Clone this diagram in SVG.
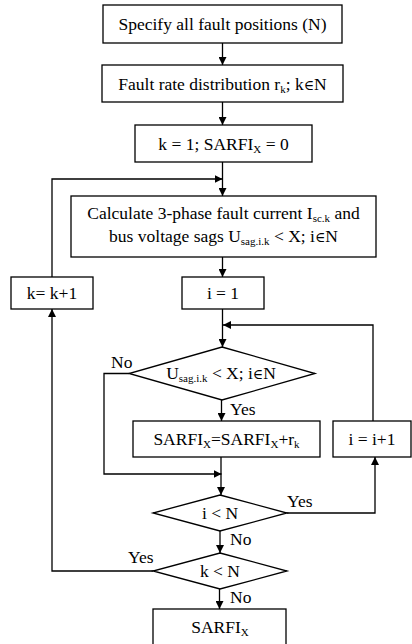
<svg xmlns="http://www.w3.org/2000/svg" width="412" height="644" viewBox="0 0 412 644">
  <style>
    .box { fill: #ffffff; stroke: #000000; stroke-width: 1.3; }
    .line { fill: none; stroke: #000000; stroke-width: 1.3; }
    text { font-family: "Liberation Serif", "DejaVu Serif", serif; font-size: 17.5px; fill: #000000; }
    .c { text-anchor: middle; }
    .sub { font-size: 11px; }
    .el { font-size: 14px; }
  </style>
  <defs>
    <marker id="arrow" viewBox="0 0 10 10" refX="10" refY="5" markerWidth="8" markerHeight="8" markerUnits="userSpaceOnUse" orient="auto">
      <path d="M0,0 L10,5 L0,10 z" fill="#000000"/>
    </marker>
  </defs>
  <rect width="412" height="644" fill="#ffffff"/>

  <g id="connectors">
    <line class="line" x1="222.5" y1="43" x2="222.5" y2="65" marker-end="url(#arrow)"/>
    <line class="line" x1="222.5" y1="102" x2="222.5" y2="125" marker-end="url(#arrow)"/>
    <line class="line" x1="222.5" y1="162" x2="222.5" y2="196" marker-end="url(#arrow)"/>
    <polyline class="line" points="52,277 52,179 222.5,179" marker-end="url(#arrow)"/>
    <line class="line" x1="222.5" y1="257" x2="222.5" y2="277" marker-end="url(#arrow)"/>
    <line class="line" x1="222.5" y1="309" x2="222.5" y2="347" marker-end="url(#arrow)"/>
    <polyline class="line" points="373,421 373,325 223,325" marker-end="url(#arrow)"/>
    <line class="line" x1="221.5" y1="400" x2="221.5" y2="421" marker-end="url(#arrow)"/>
    <polyline class="line" points="129,373.5 104,373.5 104,474 221.5,474" marker-end="url(#arrow)"/>
    <line class="line" x1="221" y1="457" x2="221" y2="495" marker-end="url(#arrow)"/>
    <polyline class="line" points="287,513 375,513 375,457" marker-end="url(#arrow)"/>
    <line class="line" x1="220" y1="531" x2="220" y2="553" marker-end="url(#arrow)"/>
    <polyline class="line" points="153,571 52,571 52,309" marker-end="url(#arrow)"/>
    <line class="line" x1="219.5" y1="589" x2="219.5" y2="609" marker-end="url(#arrow)"/>
  </g>

  <g id="specify-positions">
    <rect class="box" x="103" y="5" width="239" height="38"/>
    <text class="c" x="222.5" y="30">Specify all fault positions (N)</text>
  </g>

  <g id="fault-rate">
    <rect class="box" x="102" y="65" width="241" height="37"/>
    <text class="c" x="222.5" y="89.5">Fault rate distribution r<tspan class="sub" dy="3">k</tspan><tspan dy="-3">; k</tspan><tspan class="el">∈</tspan>N</text>
  </g>

  <g id="init">
    <rect class="box" x="135" y="125" width="177" height="37"/>
    <text class="c" x="223.5" y="149.5">k = 1; SARFI<tspan class="sub" dy="3">X</tspan><tspan dy="-3"> = 0</tspan></text>
  </g>

  <g id="calculate">
    <rect class="box" x="71" y="196" width="305" height="61"/>
    <text class="c" x="223.5" y="219">Calculate 3-phase fault current I<tspan class="sub" dy="3">sc.k</tspan><tspan dy="-3"> and</tspan></text>
    <text class="c" x="223.5" y="242">bus voltage sags U<tspan class="sub" dy="3">sag.i.k</tspan><tspan dy="-3"> &lt; X; i</tspan><tspan class="el">∈</tspan>N</text>
  </g>

  <g id="k-increment">
    <rect class="box" x="11" y="277" width="82" height="32"/>
    <text class="c" x="52" y="299">k= k+1</text>
  </g>

  <g id="i-init">
    <rect class="box" x="182" y="277" width="82" height="32"/>
    <text class="c" x="223" y="299">i = 1</text>
  </g>

  <g id="sag-check">
    <polygon class="box" points="222,347 315,373.5 222,400 129,373.5"/>
    <text class="c" x="221" y="379">U<tspan class="sub" dy="3">sag.i.k</tspan><tspan dy="-3"> &lt; X; i</tspan><tspan class="el">∈</tspan>N</text>
    <text x="111" y="368">No</text>
    <text x="230" y="415">Yes</text>
  </g>

  <g id="sarfi-update">
    <rect class="box" x="133" y="421" width="187" height="36"/>
    <text class="c" x="226.5" y="445">SARFI<tspan class="sub" dy="3">X</tspan><tspan dy="-3">=SARFI</tspan><tspan class="sub" dy="3">X</tspan><tspan dy="-3">+r</tspan><tspan class="sub" dy="3">k</tspan></text>
  </g>

  <g id="i-increment">
    <rect class="box" x="333" y="421" width="78" height="36"/>
    <text class="c" x="372" y="445">i = i+1</text>
  </g>

  <g id="i-check">
    <polygon class="box" points="220,495 287,513 220,531 153,513"/>
    <text class="c" x="220" y="519">i &lt; N</text>
    <text x="287" y="507">Yes</text>
    <text x="230" y="545">No</text>
  </g>

  <g id="k-check">
    <polygon class="box" points="220,553 287,571 220,589 153,571"/>
    <text class="c" x="220" y="577">k &lt; N</text>
    <text x="128" y="563">Yes</text>
    <text x="230" y="603">No</text>
  </g>

  <g id="result">
    <rect class="box" x="153" y="609" width="133" height="40"/>
    <text class="c" x="220" y="633">SARFI<tspan class="sub" dy="3">X</tspan></text>
  </g>
</svg>
